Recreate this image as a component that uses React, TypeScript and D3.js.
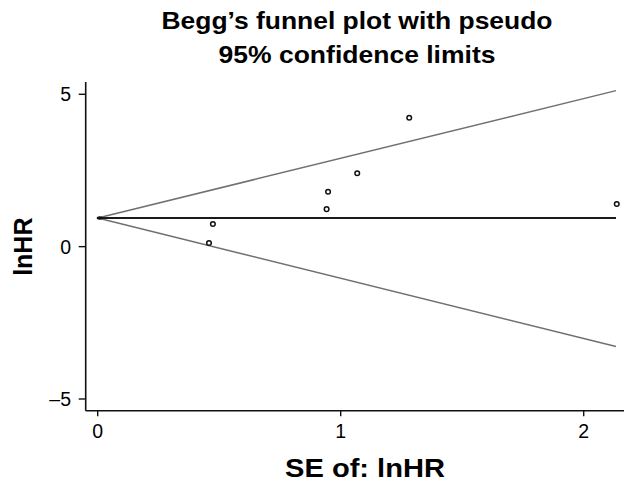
import * as d3 from "d3";
import React from "react";

// study estimates
const seValues = [0.458, 0.474, 0.942, 0.948, 1.068, 1.282, 2.136];
const lnHRValues = [0.12, 0.745, 1.23, 1.8, 2.41, 4.23, 1.4];

// pooled estimate and pseudo 95% limits at the ends of the funnel
const funnelSE = [0, 2.133];
const pooledLnHR = [0.94, 0.94];
const upperLimit = [0.94, 5.12];
const lowerLimit = [0.94, -3.28];

const xTicks = [0, 1, 2];
const yTicks = [5, 0, -5];
const titleLines = ["Begg\u2019s funnel plot with pseudo", "95% confidence limits"];

const W = 624;
const H = 481;
const FONT = "'Liberation Sans', Arial, Helvetica, sans-serif";

export default function App() {
  const x = d3.scaleLinear().domain([0, 1]).range([97.7, 340.7]);
  const y = d3.scaleLinear().domain([5, -5]).range([94.3, 399]);

  const axisX = 85.7;
  const axisY = 410.7;

  const line = d3
    .line<[number, number]>()
    .x((d) => x(d[0]))
    .y((d) => y(d[1]));

  const toPts = (vals: number[]) =>
    funnelSE.map((s, i) => [s, vals[i]] as [number, number]);

  return (
    <div style={{ position: "fixed", left: 0, top: 0 }}>
      <svg width={W} height={H} style={{ display: "block", background: "#fff" }}>
        {/* title */}
        <text
          x={357}
          y={29}
          textAnchor="middle"
          fontFamily={FONT}
          fontWeight="bold"
          fontSize={24.5}
          textLength={391}
          lengthAdjust="spacingAndGlyphs"
          fill="#000"
        >
          {titleLines[0]}
        </text>
        <text
          x={357}
          y={62.5}
          textAnchor="middle"
          fontFamily={FONT}
          fontWeight="bold"
          fontSize={24.5}
          textLength={277}
          lengthAdjust="spacingAndGlyphs"
          fill="#000"
        >
          {titleLines[1]}
        </text>

        {/* funnel limits */}
        <path d={line(toPts(upperLimit)) || ""} fill="none" stroke="#707070" strokeWidth={1.5} />
        <path d={line(toPts(lowerLimit)) || ""} fill="none" stroke="#707070" strokeWidth={1.5} />
        <path d={line(toPts(pooledLnHR)) || ""} fill="none" stroke="#1a1a1a" strokeWidth={1.8} />
        <ellipse cx={x(0) + 2} cy={y(pooledLnHR[0])} rx={3} ry={1.7} fill="#111" />

        {/* studies */}
        {seValues.map((s, i) => (
          <circle
            key={i}
            cx={x(s)}
            cy={y(lnHRValues[i])}
            r={2.3}
            fill="#fff"
            stroke="#111"
            strokeWidth={1.5}
          />
        ))}

        {/* axes */}
        <line x1={axisX} x2={axisX} y1={82} y2={axisY} stroke="#111" strokeWidth={1.6} />
        <line x1={axisX} x2={W} y1={axisY} y2={axisY} stroke="#111" strokeWidth={1.6} />

        {yTicks.map((t) => (
          <g key={"y" + t}>
            <line x1={axisX - 7} x2={axisX} y1={y(t)} y2={y(t)} stroke="#111" strokeWidth={1.4} />
            <text
              x={71}
              y={y(t) + 7}
              textAnchor="end"
              fontFamily={FONT}
              fontSize={19.5}
              fill="#000"
            >
              {t < 0 ? "\u2013" + Math.abs(t) : t}
            </text>
          </g>
        ))}

        {xTicks.map((t) => (
          <g key={"x" + t}>
            <line x1={x(t)} x2={x(t)} y1={axisY} y2={axisY + 5.5} stroke="#111" strokeWidth={1.4} />
            <text
              x={x(t)}
              y={437.5}
              textAnchor="middle"
              fontFamily={FONT}
              fontSize={19.5}
              fill="#000"
            >
              {t}
            </text>
          </g>
        ))}

        {/* axis titles */}
        <text
          x={365}
          y={476.5}
          textAnchor="middle"
          fontFamily={FONT}
          fontWeight="bold"
          fontSize={25.5}
          textLength={160}
          lengthAdjust="spacingAndGlyphs"
          fill="#000"
        >
          SE of: lnHR
        </text>
        <text
          transform={`translate(31.5,246.7) rotate(-90)`}
          textAnchor="middle"
          fontFamily={FONT}
          fontWeight="bold"
          fontSize={25}
          fill="#000"
        >
          lnHR
        </text>
      </svg>
    </div>
  );
}
